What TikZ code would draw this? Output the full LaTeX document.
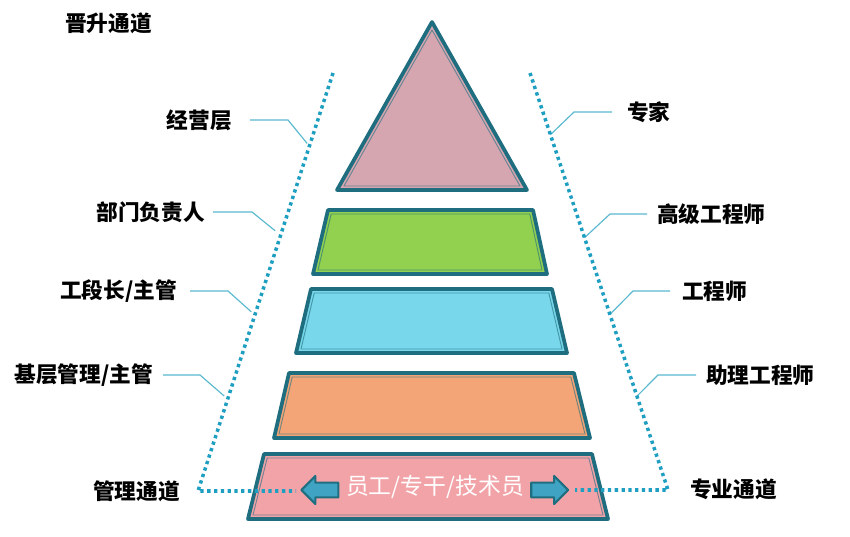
\documentclass[tikz,border=0pt]{standalone}
\usepackage{fontspec}
\setmainfont{Noto Sans CJK SC}
\usetikzlibrary{calc,shapes.arrows}
\definecolor{EdgeClr}{RGB}{31,110,128}
\definecolor{PeakClr}{RGB}{213,166,176}
\definecolor{GreenClr}{RGB}{146,208,80}
\definecolor{BlueClr}{RGB}{120,215,234}
\definecolor{OrangeClr}{RGB}{243,165,119}
\definecolor{BaseClr}{RGB}{242,163,167}
\definecolor{ArrowClr}{RGB}{63,164,195}
\definecolor{DotClr}{RGB}{30,158,192}
\definecolor{LeadClr}{RGB}{90,185,207}

\begin{document}
\begin{tikzpicture}[x=0.03cm,y=-0.03cm,
  layer/.style={line width=3.2pt,draw=EdgeClr,line join=round},
  inner/.style={line width=0.8pt,draw=EdgeClr,draw opacity=0.6,line join=round},
  track/.style={line width=3pt,color=DotClr,dash pattern=on 2.8pt off 3pt},
  leader/.style={line width=1pt,color=LeadClr},
  lbl/.style={font=\fontsize{18.5}{20}\selectfont\bfseries,inner xsep=0pt,inner ysep=1pt},
  dirarrow/.style={single arrow,fill=ArrowClr,draw=EdgeClr,line width=1.8pt,line join=round,
    minimum height=1.11cm,minimum width=0pt,single arrow head extend=0.2cm,
    inner xsep=0pt,inner ysep=0.19cm}]
\useasboundingbox (0,0) rectangle (850,536);

\coordinate (Ltop) at (333,73);
\coordinate (Lbot) at (198,491);
\coordinate (Lend) at (296,491);
\coordinate (Rtop) at (530,73);
\coordinate (Rbot) at (668,490);
\coordinate (Rend) at (575,490);

\coordinate (l1) at ($(Ltop)!0.175!(Lbot)$);
\coordinate (l2) at ($(Ltop)!0.388!(Lbot)$);
\coordinate (l3) at ($(Ltop)!0.579!(Lbot)$);
\coordinate (l4) at ($(Ltop)!0.780!(Lbot)$);
\coordinate (r1) at ($(Rtop)!0.148!(Rbot)$);
\coordinate (r2) at ($(Rtop)!0.395!(Rbot)$);
\coordinate (r3) at ($(Rtop)!0.579!(Rbot)$);
\coordinate (r4) at ($(Rtop)!0.775!(Rbot)$);

\node[lbl,anchor=west] (jstd) at (65,23) {晋升通道};
\node[lbl,anchor=east] (jyc) at (232,120) {经营层};
\node[lbl,anchor=east] (bmfzr) at (205,212) {部门负责人};
\node[lbl,anchor=east] (gdz) at (177,291) {工段长/主管};
\node[lbl,anchor=east] (jcgl) at (153,375) {基层管理/主管};
\node[lbl,anchor=east] (gltd) at (180,491) {管理通道};
\node[lbl,anchor=west] (zj) at (627,112) {专家};
\node[lbl,anchor=west] (gjgcs) at (657,214) {高级工程师};
\node[lbl,anchor=west] (gcs) at (682,291) {工程师};
\node[lbl,anchor=west] (zlgcs) at (706,375) {助理工程师};
\node[lbl,anchor=west] (zytd) at (690,489) {专业通道};

\draw[leader,shorten >=3pt] (jyc.east) ++(18,0) -- ++(38,0) -- (l1);
\draw[leader,shorten >=6pt] (bmfzr.east) ++(8,0) -- ++(39,0) -- (l2);
\draw[leader,shorten >=4pt] (gdz.east) ++(13,0) -- ++(38,0) -- (l3);
\draw[leader,shorten >=4pt] (jcgl.east) ++(10,0) -- ++(37,0) -- (l4);
\draw[leader] (zj.west) ++(-15,0) -- ++(-38,0) -- (r1);
\draw[leader] (gjgcs.west) ++(-10,0) -- ++(-37,0) -- (r2);
\draw[leader] (gcs.west) ++(-12,0) -- ++(-37,0) -- (r3);
\draw[leader] (zlgcs.west) ++(-10,0) -- ++(-38,0) -- (r4);

\filldraw[layer,fill=PeakClr] (432,22) -- (527,190) -- (337,190) -- cycle;
\draw[inner] (432,30) -- (520,186) -- (344,186) -- cycle;
\filldraw[layer,fill=GreenClr] (328,210) -- (533,210) -- (547,274) -- (313,274) -- cycle;
\draw[inner] (331.2,214) -- (529.8,214) -- (542,270) -- (318,270) -- cycle;
\filldraw[layer,fill=BlueClr] (311,289) -- (552,289) -- (567,353) -- (296,353) -- cycle;
\draw[inner] (314.2,293) -- (548.8,293) -- (562,349) -- (301,349) -- cycle;
\filldraw[layer,fill=OrangeClr] (289,373) -- (574,373) -- (590,438) -- (274,438) -- cycle;
\draw[inner] (292.2,377) -- (570.8,377) -- (585,434) -- (279,434) -- cycle;
\filldraw[layer,fill=BaseClr] (264,454) -- (592,454) -- (608,519) -- (248,519) -- cycle;
\draw[inner] (267.2,458) -- (588.8,458) -- (603,515) -- (253,515) -- cycle;

\draw[track] (Ltop) -- (Lbot) -- (Lend);
\draw[track] (Rtop) -- (Rbot) -- (Rend);

\node[dirarrow,shape border rotate=180] (lftarr) at (323.5,490) {};
\node[dirarrow] (rgtarr) at (546,490) {};
\node[font=\fontsize{19.5}{21}\selectfont,text=white,inner sep=0pt] (yg) at (435,487) {员工/专干/技术员};

\end{tikzpicture}
\end{document}
